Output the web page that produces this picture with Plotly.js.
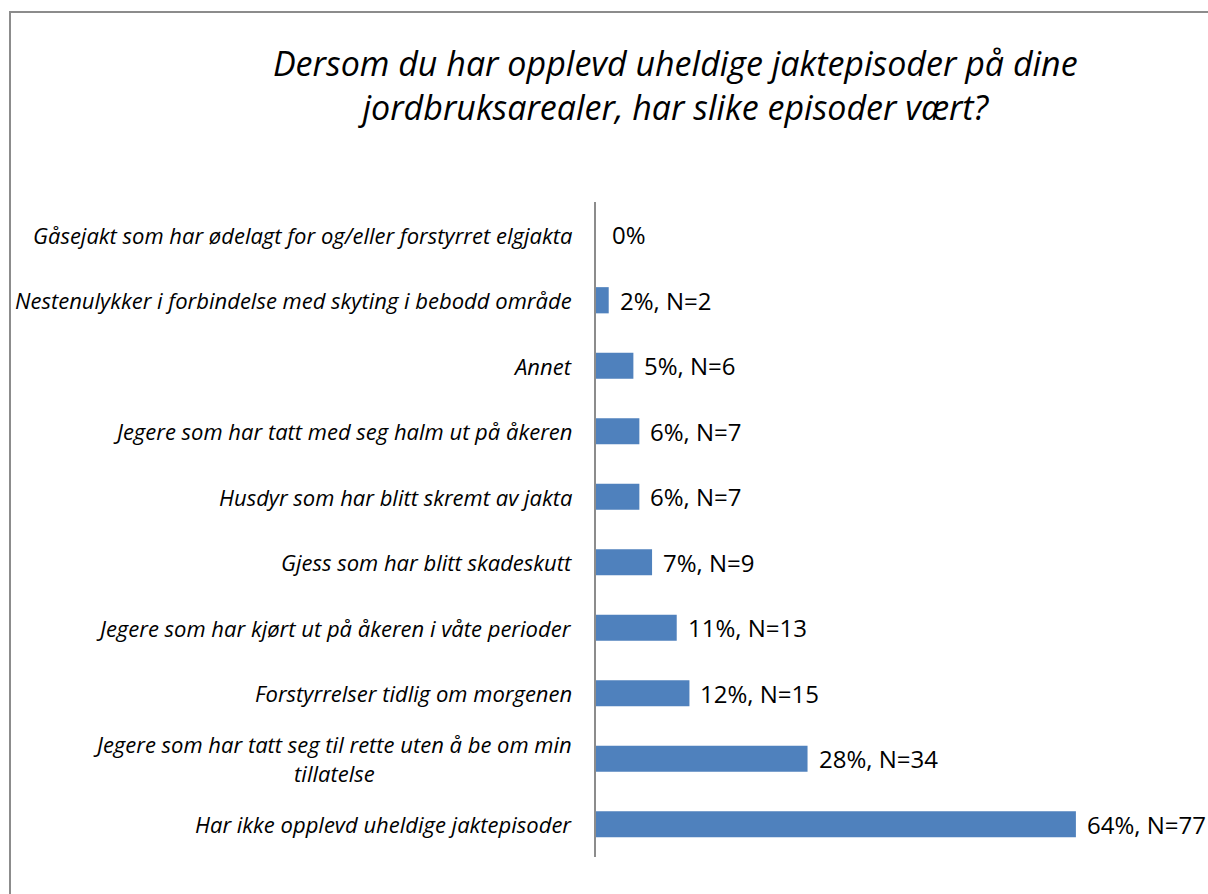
<!DOCTYPE html>
<html><head><meta charset="utf-8">
<script src="https://cdn.plot.ly/plotly-3.0.1.min.js"></script>
<style>
html,body{margin:0;padding:0;background:#fff;}
#frame{position:absolute;left:9px;top:11px;width:1300px;height:1000px;border-left:2px solid #8c8c8c;border-top:2px solid #8c8c8c;}
#chart{position:absolute;left:0;top:0;width:1208px;height:894px;}
</style></head><body>
<div id="frame"></div>
<div id="chart"></div>
<script>
const categories = [
  "Gåsejakt som har ødelagt for og/eller forstyrret elgjakta",
  "Nestenulykker i forbindelse med skyting i bebodd område",
  "Annet",
  "Jegere som har tatt med seg halm ut på åkeren",
  "Husdyr som har blitt skremt av jakta",
  "Gjess som har blitt skadeskutt",
  "Jegere som har kjørt ut på åkeren i våte perioder",
  "Forstyrrelser tidlig om morgenen",
  "Jegere som har tatt seg til rette uten å be om min<br>tillatelse",
  "Har ikke opplevd uheldige jaktepisoder"
];
const percentValues = [0, 1.7, 5.0, 5.8, 5.8, 7.5, 10.8, 12.5, 28.3, 64.2];
const valueLabels = ["0%", "2%, N=2", "5%, N=6", "6%, N=7", "6%, N=7", "7%, N=9", "11%, N=13", "12%, N=15", "28%, N=34", "64%, N=77"];
const titleText = "Dersom du har opplevd uheldige jaktepisoder på dine<br>jordbruksarealer, har slike episoder vært?";

const FONT = "'Open Sans', sans-serif";

const trace = {
  type: "bar",
  orientation: "h",
  y: categories,
  x: percentValues,
  marker: {color: "#4f81bd", line: {width: 0}},
  hoverinfo: "none"
};

const annotations = [];
categories.forEach((c, i) => {
  annotations.push({
    xref: "paper", yref: "y", x: 0, y: c,
    xanchor: "right", yanchor: "middle", xshift: -22,
    text: c, showarrow: false, align: "center",
    font: {family: FONT, size: 22, color: "#000", style: "italic"}
  });
  annotations.push({
    xref: "x", yref: "y", x: percentValues[i], y: c,
    xanchor: "left", yanchor: "middle", xshift: i === 0 ? 14 : 9,
    text: valueLabels[i], showarrow: false,
    font: {family: FONT, size: 24, color: "#000"}
  });
});

const layout = {
  width: 1208, height: 894,
  paper_bgcolor: "rgba(0,0,0,0)", plot_bgcolor: "rgba(0,0,0,0)",
  margin: {l: 596, r: 14, t: 202, b: 37},
  showlegend: false,
  bargap: 0.6,
  title: {
    text: titleText,
    font: {family: FONT, size: 34, color: "#000", style: "italic"},
    x: 0.559, xanchor: "center", y: 0.915, yanchor: "top"
  },
  xaxis: {range: [0, 80], showgrid: false, zeroline: false, showticklabels: false, showline: false, fixedrange: true},
  yaxis: {autorange: "reversed", showticklabels: false, showgrid: false, zeroline: false,
          showline: true, linecolor: "#8c8c8c", linewidth: 2, ticks: "", fixedrange: true},
  annotations: annotations
};

Plotly.newPlot("chart", [trace], layout, {displayModeBar: false, staticPlot: true});
</script>
</body></html>
